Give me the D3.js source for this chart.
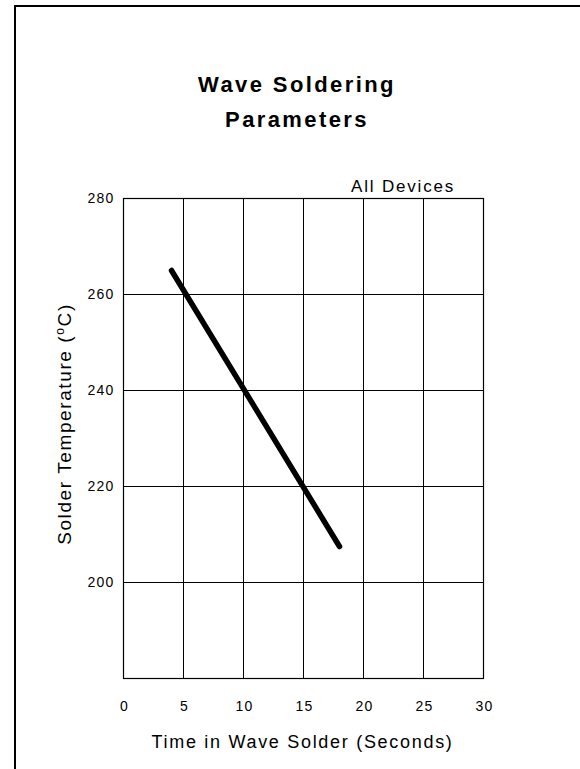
<!DOCTYPE html>
<html>
<head>
<meta charset="utf-8">
<script src="https://cdn.jsdelivr.net/npm/d3@7"></script>
<style>
  html, body { margin: 0; padding: 0; background: #fff; }
  svg { display: block; font-family: "Liberation Sans", Arial, Helvetica, sans-serif; }
</style>
</head>
<body>
<svg id="chart" width="580" height="769"></svg>
<script>
// ---- data ----
const titleLines = ["Wave Soldering", "Parameters"];
const xLabel = "Time in Wave Solder (Seconds)";
const yLabel = "Solder Temperature (";
const annotation = "All Devices";
const xTicks = [0, 5, 10, 15, 20, 25, 30];
const yTicks = [200, 220, 240, 260, 280];
const xDomain = [0, 30];
const yDomain = [180, 280];
const lineTime = [4, 18];
const lineTemp = [265, 207.5];

// ---- layout ----
const svg = d3.select("#chart");
const W = 580, H = 769;
const m = { left: 123.5, top: 198.5, width: 360, height: 480 };

// outer frame (top + left visible)
svg.append("path")
  .attr("d", `M15,${H} L15,6 L${W},6`)
  .attr("fill", "none").attr("stroke", "#000").attr("stroke-width", 2);

const x = d3.scaleLinear().domain(xDomain).range([m.left, m.left + m.width]);
const y = d3.scaleLinear().domain(yDomain).range([m.top + m.height, m.top]);

const g = svg.append("g");

// grid
g.selectAll("line.vg").data(xTicks.filter(d => d > xDomain[0] && d < xDomain[1]))
  .join("line").attr("class", "vg")
  .attr("x1", d => x(d)).attr("x2", d => x(d))
  .attr("y1", y(yDomain[0])).attr("y2", y(yDomain[1]))
  .attr("stroke", "#000").attr("stroke-width", 1);
g.selectAll("line.hg").data(yTicks.filter(d => d > yDomain[0] && d < yDomain[1]))
  .join("line").attr("class", "hg")
  .attr("x1", x(xDomain[0])).attr("x2", x(xDomain[1]))
  .attr("y1", d => y(d)).attr("y2", d => y(d))
  .attr("stroke", "#000").attr("stroke-width", 1);

// plot border
g.append("rect")
  .attr("x", x(xDomain[0])).attr("y", y(yDomain[1]))
  .attr("width", x(xDomain[1]) - x(xDomain[0]))
  .attr("height", y(yDomain[0]) - y(yDomain[1]))
  .attr("fill", "none").attr("stroke", "#000").attr("stroke-width", 1.2);

// axes labels via d3 axes (no domain / tick lines)
const xAxis = d3.axisBottom(x).tickValues(xTicks).tickSize(0).tickPadding(0).tickFormat(d3.format("d"));
const xg = svg.append("g").attr("transform", `translate(0,${y(yDomain[0]) + 23})`).call(xAxis);
xg.select(".domain").remove();
xg.selectAll("text").attr("font-size", 14).attr("fill", "#000")
  .attr("font-family", "Liberation Sans, Arial, sans-serif")
  .attr("letter-spacing", 1.2).attr("dx", 0.6).attr("dy", "0.71em");

const yAxis = d3.axisLeft(y).tickValues(yTicks).tickSize(0).tickPadding(9).tickFormat(d3.format("d"));
const yg = svg.append("g").attr("transform", `translate(${x(xDomain[0])},0)`).call(yAxis);
yg.select(".domain").remove();
yg.selectAll("text").attr("font-size", 14).attr("fill", "#000")
  .attr("font-family", "Liberation Sans, Arial, sans-serif")
  .attr("letter-spacing", 1.2);

// data line
const lineData = lineTime.map((t, i) => [t, lineTemp[i]]);
g.append("path")
  .datum(lineData)
  .attr("d", d3.line().x(d => x(d[0])).y(d => y(d[1])))
  .attr("fill", "none").attr("stroke", "#000")
  .attr("stroke-width", 5.5).attr("stroke-linecap", "round");

// title
svg.append("text")
  .attr("x", 297).attr("y", 92)
  .attr("text-anchor", "middle")
  .attr("font-size", 22).attr("font-weight", "bold").attr("letter-spacing", 2.4)
  .text(titleLines[0]);
svg.append("text")
  .attr("x", 297).attr("y", 127)
  .attr("text-anchor", "middle")
  .attr("font-size", 22).attr("font-weight", "bold").attr("letter-spacing", 2.4)
  .text(titleLines[1]);

// annotation
svg.append("text")
  .attr("x", 455).attr("y", 192)
  .attr("text-anchor", "end")
  .attr("font-size", 17).attr("letter-spacing", 1.8)
  .text(annotation);

// x axis title
svg.append("text")
  .attr("x", (x(xDomain[0]) + x(xDomain[1])) / 2 - 1).attr("y", 748)
  .attr("text-anchor", "middle")
  .attr("font-size", 18).attr("letter-spacing", 1.7)
  .text(xLabel);

// y axis title
const yt = svg.append("text")
  .attr("transform", `translate(71,424) rotate(-90)`)
  .attr("text-anchor", "middle")
  .attr("font-size", 19).attr("letter-spacing", 1.6);
yt.append("tspan").text(yLabel);
yt.append("tspan").attr("font-size", 12).attr("dy", -7).text("o");
yt.append("tspan").attr("dy", 7).text("C)");
</script>
</body>
</html>
